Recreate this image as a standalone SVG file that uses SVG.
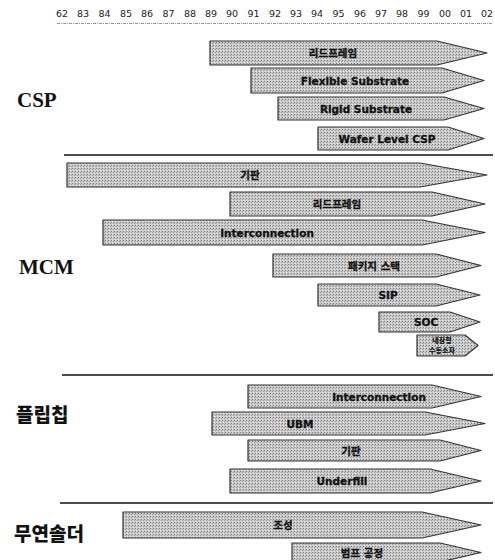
<svg xmlns="http://www.w3.org/2000/svg" width="495" height="560" viewBox="0 0 495 560">
<defs>
<pattern id="dots" width="3" height="3" patternUnits="userSpaceOnUse">
<rect width="3" height="3" fill="#cbcbcb"/>
<rect x="0" y="0" width="1" height="1" fill="#7a7a7a"/>
<rect x="2" y="1" width="1" height="1" fill="#999"/>
<rect x="1" y="2" width="1" height="1" fill="#e6e6e6"/>
</pattern>
</defs>
<style>
.bar{fill:url(#dots);stroke:#333;stroke-width:1.2;stroke-linejoin:round}
.lbl{font-family:"DejaVu Sans","Noto Sans CJK KR",sans-serif;font-weight:bold;font-size:10.5px;fill:#111;stroke:#111;stroke-width:0.3;text-anchor:middle;dominant-baseline:central}
.sm{font-size:7px;stroke-width:0.2}
.grp{font-family:"Liberation Serif",serif;font-weight:bold;font-size:21px;fill:#111}
.kgrp{font-family:"Noto Sans CJK KR",sans-serif;font-weight:900;font-size:19px;fill:#111}
.yr{font-family:"DejaVu Sans",sans-serif;font-size:9.5px;fill:#222;text-anchor:middle}
.sep{stroke:#111;stroke-width:1.6}
</style>
<g id="axis">
<text class="yr" y="17"><tspan x="62">62</tspan><tspan x="83">83</tspan><tspan x="104.5">84</tspan><tspan x="126">85</tspan><tspan x="147">86</tspan><tspan x="168.5">87</tspan><tspan x="190">88</tspan><tspan x="211">89</tspan><tspan x="232">90</tspan><tspan x="253.5">91</tspan><tspan x="275">92</tspan><tspan x="296">93</tspan><tspan x="317">94</tspan><tspan x="338.5">95</tspan><tspan x="360">96</tspan><tspan x="381">97</tspan><tspan x="402">98</tspan><tspan x="423.5">99</tspan><tspan x="445">00</tspan><tspan x="466">01</tspan><tspan x="487">02</tspan></text>
<line x1="57" y1="23.5" x2="493" y2="23.5" stroke="#777" stroke-width="0.8" stroke-dasharray="3 1 1 1"/>
</g>
<g id="separators">
<line class="sep" x1="64" y1="155" x2="493" y2="155"/>
<line class="sep" x1="62" y1="375" x2="493" y2="375"/>
<line class="sep" x1="60" y1="503" x2="493" y2="503"/>
</g>
<g id="labels">
<text class="grp" x="17" y="107">CSP</text>
<text class="grp" x="19" y="274">MCM</text>
<text class="kgrp" x="16" y="422">플립칩</text>
<text class="kgrp" x="14" y="541">무연솔더</text>
</g>
<g id="csp">
<g id="csp-leadframe"><polygon class="bar" points="210,41 437,41 487,53 437,65 210,65"/><text class="lbl" x="333" y="53">리드프레임</text></g>
<g id="csp-flex"><polygon class="bar" points="251,68 442,68 484,80.5 442,93 251,93"/><text class="lbl" x="355" y="80.5">Flexible Substrate</text></g>
<g id="csp-rigid"><polygon class="bar" points="278,97 444,97 484,108.5 444,120 278,120"/><text class="lbl" x="366" y="108.5">Rigid Substrate</text></g>
<g id="csp-wafer"><polygon class="bar" points="318,127 448,127 484,138.5 448,150 318,150"/><text class="lbl" x="387" y="138.5">Wafer Level CSP</text></g>
</g>
<g id="mcm">
<g id="mcm-substrate"><polygon class="bar" points="67,163 420,163 487,175 420,187 67,187"/><text class="lbl" x="250" y="175">기판</text></g>
<g id="mcm-leadframe"><polygon class="bar" points="230,192 432,192 485,204 432,216 230,216"/><text class="lbl" x="337" y="204">리드프레임</text></g>
<g id="mcm-interconnection"><polygon class="bar" points="103,220 422,220 485,232.5 422,245 103,245"/><text class="lbl" x="267" y="232.5">Interconnection</text></g>
<g id="mcm-stack"><polygon class="bar" points="273,254 436,254 481,265.5 436,277 273,277"/><text class="lbl" x="374" y="265.5">패키지 스택</text></g>
<g id="mcm-sip"><polygon class="bar" points="318,284 436,284 480,295 436,306 318,306"/><text class="lbl" x="388" y="295">SIP</text></g>
<g id="mcm-soc"><polygon class="bar" points="379,312 450,312 480,322 450,332 379,332"/><text class="lbl" x="426" y="322">SOC</text></g>
<g id="mcm-passive"><polygon class="bar" points="417,335 465,335 478,345.5 465,356 417,356"/><text class="lbl sm" x="442" y="340.5">내장형</text><text class="lbl sm" x="442" y="350.5">수동소자</text></g>
</g>
<g id="flipchip">
<g id="fc-interconnection"><polygon class="bar" points="248,385 432,385 481,396.5 432,408 248,408"/><text class="lbl" x="379" y="396.5">Interconnection</text></g>
<g id="fc-ubm"><polygon class="bar" points="212,412 425,412 485,423.5 425,435 212,435"/><text class="lbl" x="300" y="423.5">UBM</text></g>
<g id="fc-substrate"><polygon class="bar" points="248,440 440,440 481,450.5 440,461 248,461"/><text class="lbl" x="351" y="450.5">기판</text></g>
<g id="fc-underfill"><polygon class="bar" points="230,469 430,469 481,481 430,493 230,493"/><text class="lbl" x="342" y="481">Underfill</text></g>
</g>
<g id="leadfree">
<g id="lf-composition"><polygon class="bar" points="123,512 422,512 481,525 422,538 123,538"/><text class="lbl" x="283" y="525">조성</text></g>
<g id="lf-bump"><polygon class="bar" points="292,543 440,543 481,552.5 440,562 292,562"/><text class="lbl" x="362" y="552.5">범프 공정</text></g>
</g>
</svg>
